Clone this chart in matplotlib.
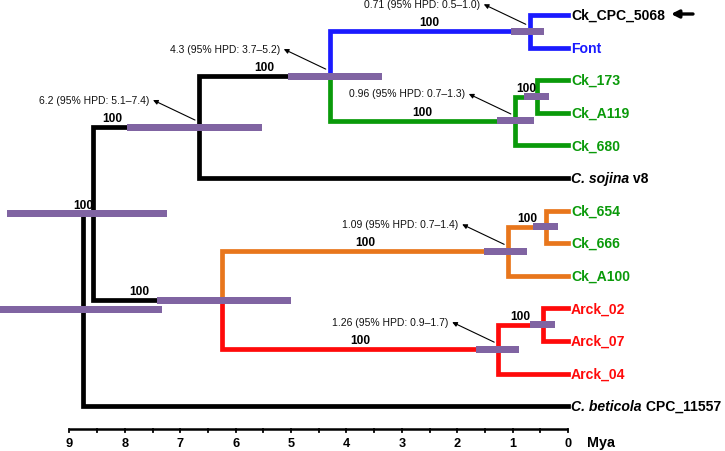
import matplotlib
matplotlib.use("Agg")
import matplotlib.pyplot as plt

plt.rcParams['font.family'] = ['Liberation Sans', 'DejaVu Sans']

# ---------------- data ----------------
tips = ["Ck_CPC_5068", "Font", "Ck_173", "Ck_A119", "Ck_680", "C. sojina v8",
        "Ck_654", "Ck_666", "Ck_A100", "Arck_02", "Arck_07", "Arck_04",
        "C. beticola CPC_11557"]
tip_branch_colors = ["blue", "blue", "green", "green", "green", "black",
                     "orange", "orange", "orange", "red", "red", "red", "black"]
tip_text_colors = ["black", "blue", "green", "green", "green", "black",
                   "green", "green", "green", "red", "red", "red", "black"]

node_names = ["root", "B", "C", "D", "blue", "green", "g173", "E", "orange", "o654", "red", "r02"]
node_ages = [8.75, 8.57, 6.66, 4.30, 0.69, 0.96, 0.56, 6.25, 1.08, 0.40, 1.26, 0.45]
hpd_low = [7.33, 7.24, 5.52, 3.36, 0.43, 0.61, 0.34, 5.00, 0.74, 0.18, 0.88, 0.23]
hpd_high = [10.25, 10.13, 7.96, 5.05, 1.03, 1.28, 0.79, 7.42, 1.52, 0.63, 1.66, 0.69]
node_children = [["B", "C. beticola CPC_11557"],
                 ["C", "E"],
                 ["D", "C. sojina v8"],
                 ["blue", "green"],
                 ["Ck_CPC_5068", "Font"],
                 ["g173", "Ck_680"],
                 ["Ck_173", "Ck_A119"],
                 ["orange", "red"],
                 ["o654", "Ck_A100"],
                 ["Ck_654", "Ck_666"],
                 ["r02", "Arck_04"],
                 ["Arck_02", "Arck_07"]]
node_branch_colors = ["black", "black", "black", "black", "blue", "green", "green",
                      "black", "orange", "orange", "red", "red"]
node_support = [None, 100, 100, 100, 100, 100, 100, 100, 100, 100, 100, 100]

annot_nodes = ["blue", "D", "C", "green", "orange", "red"]
annot_texts = ["0.71 (95% HPD: 0.5\u20131.0)", "4.3 (95% HPD: 3.7\u20135.2)",
               "6.2 (95% HPD: 5.1\u20137.4)", "0.96 (95% HPD: 0.7\u20131.3)",
               "1.09 (95% HPD: 0.7\u20131.4)", "1.26 (95% HPD: 0.9\u20131.7)"]

axis_ticks = [9, 8, 7, 6, 5, 4, 3, 2, 1, 0]
axis_minor = [8.5, 7.5, 6.5, 5.5, 4.5, 3.5, 2.5, 1.5, 0.5]
axis_unit = "Mya"

# ---------------- styles ----------------
COL = {"black": "#000000", "blue": "#1a1aff", "green": "#0a9a0a",
       "orange": "#e8761c", "red": "#ff0a0a"}
BAR = "#8064a2"

W, H = 725, 451
PX_PER_MY = 55.4
X0 = 568.0          # pixel of age 0
Y0, DY = 15.0, 32.6  # pixel of first tip and spacing

fig = plt.figure(figsize=(W / 100, H / 100), dpi=100)
ax = fig.add_axes([0, 0, 1, 1])
ax.set_xlim(X0 / PX_PER_MY, (X0 - W) / PX_PER_MY)
ax.set_ylim((H - Y0) / DY, -Y0 / DY)
ax.axis("off")

def px(dx):   # pixel -> age units
    return dx / PX_PER_MY

def py(dy):   # pixel -> row units
    return dy / DY

# positions
pos = {}
for i, t in enumerate(tips):
    pos[t] = (0.0, float(i))
age_of = dict(zip(node_names, node_ages))

def node_y(n):
    if n in pos:
        return pos[n][1]
    k = node_names.index(n)
    ys = [node_y(c) for c in node_children[k]]
    y = sum(ys) / len(ys)
    pos[n] = (age_of[n], y)
    return y

for n in node_names:
    node_y(n)

branch_color = dict(zip(tips, tip_branch_colors))
branch_color.update(dict(zip(node_names, node_branch_colors)))

LW = 3.4
# branches
for k, n in enumerate(node_names):
    px0, py0 = pos[n]
    for c in node_children[k]:
        cx, cy = pos[c]
        ax.plot([px0, px0, cx], [py0, cy, cy], color=COL[branch_color[c]],
                lw=LW, solid_joinstyle="miter", solid_capstyle="projecting", zorder=2)

# HPD bars
for k, n in enumerate(node_names):
    ax.barh(pos[n][1], hpd_high[k] - hpd_low[k], left=hpd_low[k], height=py(7),
            color=BAR, zorder=3, linewidth=0)

# support labels
label_shift = {"B": -5, "C": -34, "E": -18}
parent_of = {}
for k, n in enumerate(node_names):
    for c in node_children[k]:
        parent_of[c] = n
for k, n in enumerate(node_names):
    if node_support[k] is None:
        continue
    p = parent_of[n]
    mid = (pos[p][0] + pos[n][0]) / 2 - px(label_shift.get(n, 0))
    ax.text(mid, pos[n][1] - py(5), str(node_support[k]), ha="center", va="baseline",
            fontsize=8.6, fontweight="bold", color="black", zorder=5)

# tip labels
TIP_FS = 10.1
for i, t in enumerate(tips):
    x, y = pos[t]
    kw = dict(fontsize=TIP_FS, fontweight="bold", color=COL[tip_text_colors[i]],
              va="baseline", zorder=5)
    if t.startswith("C. "):
        parts = t.split(" ")
        ital = " ".join(parts[:2])
        rest = " " + " ".join(parts[2:])
        tt = ax.text(x - px(3), y + py(5), ital, ha="left", style="italic", **kw)
        ax.annotate(rest, xy=(1, 0), xycoords=tt, ha="left", va="bottom",
                    fontsize=TIP_FS, fontweight="bold", color=COL[tip_text_colors[i]])
    else:
        tt = ax.text(x - px(3), y + py(5), t, ha="left", **kw)

# black marker arrow next to first tip
y_first = pos[tips[0]][1]
ax.annotate("", xy=(-px(103), y_first - py(1)), xytext=(-px(125), y_first - py(1)),
            arrowprops=dict(arrowstyle="-|>", color="black", lw=2.4, mutation_scale=11,
                            shrinkA=0, shrinkB=0), zorder=6)

# HPD annotations
for n, txt in zip(annot_nodes, annot_texts):
    nx, ny = pos[n]
    tail = (nx + px(4), ny - py(7))
    head = (tail[0] + px(42), tail[1] - py(20))
    ax.annotate("", xy=head, xytext=tail,
                arrowprops=dict(arrowstyle="-|>", color="black", lw=0.8, mutation_scale=7,
                                shrinkA=0, shrinkB=0), zorder=6)
    ax.text(head[0] + px(4), head[1] + py(3.5), txt, ha="right", va="baseline",
            fontsize=7.5, color="#111111", zorder=6)

# time axis
y_ax = (429 - Y0) / DY
ax.plot([max(axis_ticks), min(axis_ticks)], [y_ax, y_ax], color="black", lw=1.8,
        solid_capstyle="butt", zorder=2)
for t in axis_ticks + axis_minor:
    ax.plot([t, t], [y_ax, y_ax + py(3)], color="black", lw=1.3, zorder=2)
for t in axis_ticks:
    ax.text(t, y_ax + py(18), str(t), ha="center", va="baseline", fontsize=9.2,
            fontweight="bold")
ax.text(-px(19), y_ax + py(18), axis_unit, ha="left", va="baseline", fontsize=10.4,
        fontweight="bold")

fig.savefig("out.png", dpi=100)
